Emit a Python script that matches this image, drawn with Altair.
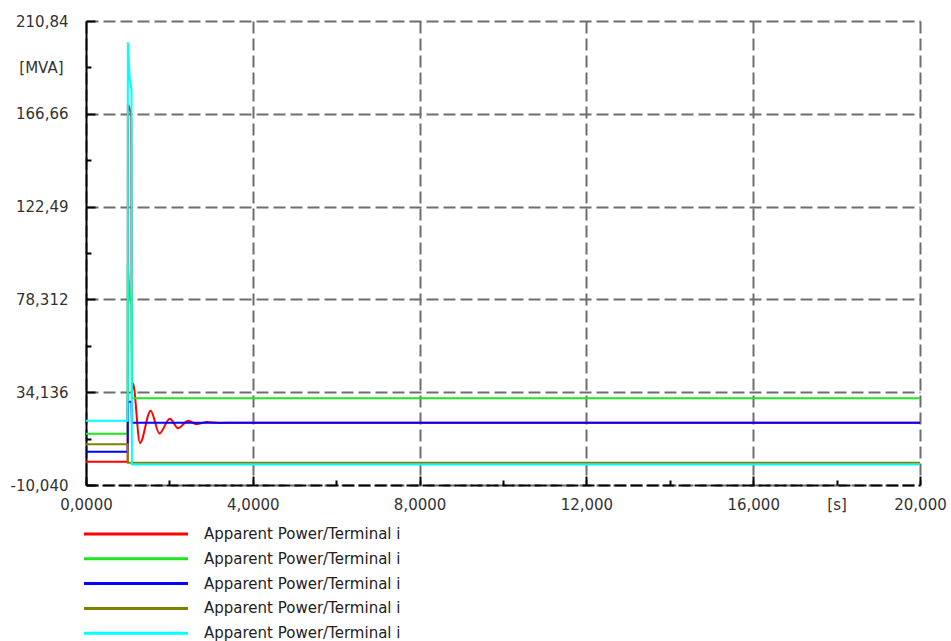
import altair as alt
import pandas as pd

# ---- series: apparent power [MVA] over time [s] at five terminals ----
series_keys = ["t1", "t2", "t3", "t4", "t5"]
series_labels = ["Apparent Power/Terminal i"] * 5
series_colors = ["#ff0000", "#1ee61e", "#0000ff", "#808000", "#00ffff"]

red_t = [0.0, 1.0, 1.004, 1.085, 1.1, 1.125, 1.295, 1.55, 1.76, 2.01, 2.21, 2.45, 2.65, 2.9, 3.2, 3.6, 20.0]
red_v = [1.05, 1.05, 171.0, 165.0, 34.0, 38.4, 10.0, 25.3, 14.5, 21.5, 17.0, 20.6, 18.9, 19.9, 19.5, 19.6, 19.6]

green_t = [0.0, 1.0, 1.004, 1.05, 1.09, 1.1, 20.0]
green_v = [14.4, 14.4, 95.0, 80.0, 76.0, 31.2, 31.2]

blue_t = [0.0, 1.0, 1.004, 1.09, 1.1, 20.0]
blue_v = [5.8, 5.8, 29.6, 29.6, 19.6, 19.6]

olive_t = [0.0, 1.0, 1.004, 20.0]
olive_v = [9.3, 9.3, 0.6, 0.6]

cyan_t = [0.0, 1.0, 1.004, 1.05, 1.092, 1.1, 20.0]
cyan_v = [20.5, 20.5, 200.7, 183.0, 178.0, -0.3, -0.3]

# ---- axis ticks ----
y_major = [-10.04, 34.136, 78.312, 122.488, 166.664, 210.84]
y_major_labels = ["-10,040", "34,136", "78,312", "122,49", "166,66", "210,84"]
y_minor = [12.048, 56.224, 100.4, 144.576, 188.752]
y_unit_value, y_unit_label = 188.752, "[MVA]"

x_major = [0, 4, 8, 12, 16, 20]
x_major_labels = ["0,0000", "4,0000", "8,0000", "12,000", "16,000", "20,000"]
x_minor = [2, 6, 10, 14, 18]
x_unit_value, x_unit_label = 18, "[s]"

W, H = 834, 464
FONT = "DejaVu Sans"

rows = []
for key, ts, vs in zip(series_keys,
                       [red_t, green_t, blue_t, olive_t, cyan_t],
                       [red_v, green_v, blue_v, olive_v, cyan_v]):
    for t, v in zip(ts, vs):
        rows.append({"series": key, "t": t, "p": v})
df = pd.DataFrame(rows)


def js_list(items):
    return "[" + ",".join(repr(i) for i in items) + "]"


def lookup_expr(values, labels):
    return f"{js_list(labels)}[indexof({js_list(values)}, datum.value)]"


def minor_test(minors):
    return f"indexof({js_list(minors)}, datum.value) >= 0"


x_scale = alt.Scale(domain=[0, 20], nice=False, zero=False)
y_scale = alt.Scale(domain=[-10.04, 210.84], nice=False, zero=False)

grid_style = dict(grid=True, gridColor="#6e6e6e", gridWidth=2, gridDash=[12, 5])

# labelled axes (left / bottom) that also carry the dashed grid
x_label_axis = alt.Axis(
    orient="bottom", title=None,
    values=x_major + [x_unit_value],
    labelExpr=lookup_expr(x_major + [x_unit_value], x_major_labels + [x_unit_label]),
    labelFont=FONT, labelFontSize=15, labelColor="#333333", labelPadding=12,
    labelFlush=False, labelOverlap=False,
    ticks=False, domain=True, domainColor="#000000", domainWidth=2, domainDash=[12, 4],
    gridOpacity={"condition": {"test": f"datum.value == {x_unit_value}", "value": 0}, "value": 1},
    **grid_style,
)
y_label_axis = alt.Axis(
    orient="left", title=None,
    values=y_major + [y_unit_value],
    labelExpr=lookup_expr(y_major + [y_unit_value], y_major_labels + [y_unit_label]),
    labelFont=FONT, labelFontSize=15, labelColor="#333333",
    labelPadding={"condition": {"test": f"datum.value == {y_unit_value}", "value": 23}, "value": 18},
    labelOverlap=False,
    ticks=False, domain=True, domainColor="#000000", domainWidth=2,
    gridOpacity={"condition": {"test": f"datum.value == {y_unit_value}", "value": 0}, "value": 1},
    **grid_style,
)

# tick-only axes placed on the same edges, pointing into the plot
x_tick_axis = alt.Axis(
    orient="top", offset=-H, title=None, values=sorted(x_major + x_minor),
    labels=False, domain=False, grid=False, ticks=True,
    tickColor="#000000", tickWidth=2,
    tickSize={"condition": {"test": minor_test(x_minor), "value": 5}, "value": 9},
)
y_tick_axis = alt.Axis(
    orient="right", offset=-W, title=None, values=sorted(y_major + y_minor),
    labels=False, domain=False, grid=False, ticks=True,
    tickColor="#000000", tickWidth=2,
    tickSize={"condition": {"test": minor_test(y_minor), "value": 5}, "value": 9},
)

# long horizontal swatch: a wide custom path keeps the legend rows compact
legend = alt.Legend(
    title=None, orient="none", legendX=42.5, legendY=505.5, direction="vertical",
    symbolType="M-10,0H10", symbolSize=108.16, symbolStrokeWidth=3,
    labelExpr=lookup_expr(series_keys, series_labels),
    labelFont=FONT, labelFontSize=15, labelColor="#222222",
    labelOffset=60.5, rowPadding=8.8, labelLimit=400, padding=0,
)
color = alt.Color("series:N", scale=alt.Scale(domain=series_keys, range=series_colors), legend=legend)

base = alt.Chart(df)

red_layer = base.transform_filter(alt.datum.series == "t1").mark_line(
    strokeWidth=2, interpolate="monotone"
).encode(
    x=alt.X("t:Q", scale=x_scale, axis=x_label_axis),
    y=alt.Y("p:Q", scale=y_scale, axis=y_label_axis),
    color=color,
)

other_layer = base.transform_filter(alt.datum.series != "t1").mark_line(
    strokeWidth=2
).encode(
    x=alt.X("t:Q", scale=x_scale, axis=x_tick_axis),
    y=alt.Y("p:Q", scale=y_scale, axis=y_tick_axis),
    color=color,
)

chart = alt.layer(red_layer, other_layer).resolve_axis(
    x="independent", y="independent"
).properties(
    width=W, height=H,
    autosize=alt.AutoSizeParams(type="none"),
    padding={"left": 86, "top": 21, "right": 31, "bottom": 156},
    background="#ffffff",
).configure_view(stroke=None)

chart.save("out.html", embed_options={"renderer": "svg", "actions": False})
